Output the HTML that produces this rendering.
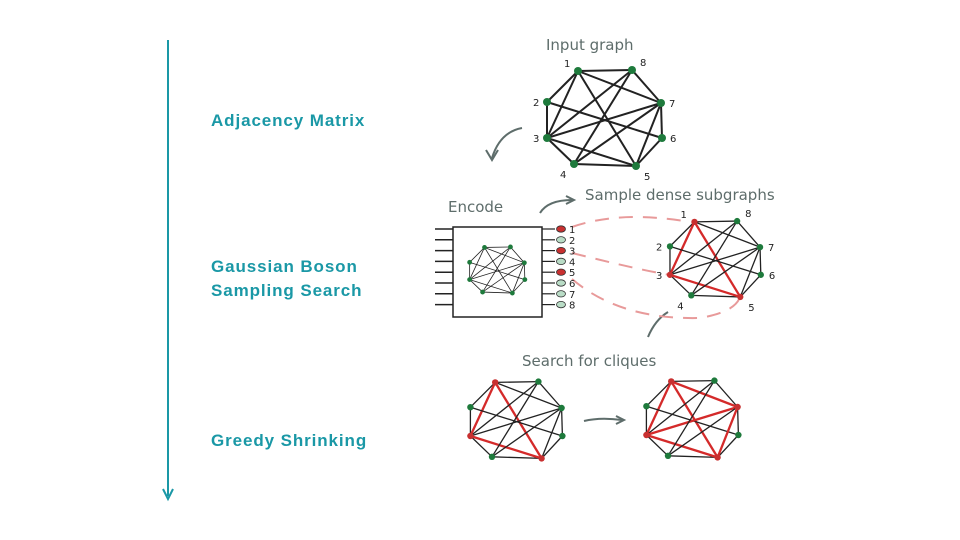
<!DOCTYPE html>
<html><head><meta charset="utf-8"><style>
body{margin:0;width:960px;height:540px;background:#fff;overflow:hidden;font-family:"Liberation Sans",sans-serif}
.lbl{position:absolute;left:211px;color:#1a98a6;font-weight:bold;font-size:17px;line-height:24px;letter-spacing:0.9px}
svg{position:absolute;left:0;top:0}
.hw{font-family:"DejaVu Sans",sans-serif;fill:#5e6d6b;font-size:15px}
.num{font-family:"DejaVu Sans",sans-serif;fill:#222;font-size:10px}
</style></head><body>
<div class="lbl" style="top:109px">Adjacency Matrix</div>
<div class="lbl" style="top:255px">Gaussian Boson<br>Sampling Search</div>
<div class="lbl" style="top:429px">Greedy Shrinking</div>
<svg id="s" width="960" height="540">
<line x1="168" y1="40" x2="168" y2="496" stroke="#1a98a6" stroke-width="2"/>
<path d="M163 489 L168 499 L173 489" fill="none" stroke="#1a98a6" stroke-width="2"/>
<text class="hw" x="546" y="50">Input graph</text>
<text class="hw" x="448" y="212">Encode</text>
<text class="hw" x="585" y="200">Sample dense subgraphs</text>
<text class="hw" x="522" y="366">Search for cliques</text>
<path d="M522 128 Q500 132 492 158" fill="none" stroke="#5e6d6b" stroke-width="2"/>
<path d="M486 150 L492 160 L498 150" fill="none" stroke="#5e6d6b" stroke-width="2"/>
<path d="M540 213 Q548 200 572 200" fill="none" stroke="#5e6d6b" stroke-width="2"/>
<path d="M566 196 L574 200 L566 204" fill="none" stroke="#5e6d6b" stroke-width="2"/>
<path d="M648 337 Q655 320 668 312" fill="none" stroke="#5e6d6b" stroke-width="2"/>
<path d="M584 421 Q600 417 622 420" fill="none" stroke="#5e6d6b" stroke-width="2"/>
<path d="M616 416 L624 420 L616 424" fill="none" stroke="#5e6d6b" stroke-width="2"/>
<g fill="none" stroke="#e89a9a" stroke-width="2" stroke-dasharray="14 10">
<path d="M572 227 Q620 210 690 222"/>
<path d="M572 253 Q640 270 670 275"/>
<path d="M572 279 Q620 320 700 318 Q735 312 740 297"/>
</g>
<rect x="453" y="227" width="89" height="90" fill="none" stroke="#222" stroke-width="1.5"/>
</svg>
<script>
const s=document.getElementById('s');
const NS='http://www.w3.org/2000/svg';
const nodePos={1:[-26,-47],8:[28,-48],2:[-57,-16],7:[57,-15],3:[-57,20],6:[58,20],4:[-30,46],5:[32,48]};
const edges=[[1,8],[8,7],[7,6],[6,5],[5,4],[4,3],[3,2],[2,1],[1,7],[1,5],[1,3],[2,6],[3,8],[3,7],[3,5],[4,8],[5,7],[4,7]];
function mk(t,a){const e=document.createElementNS(NS,t);for(const k in a)e.setAttribute(k,a[k]);s.appendChild(e);return e;}
function graph(name,cx,cy,sc,red,rn,labels,w){
  const P=k=>[cx+nodePos[k][0]*sc,cy+nodePos[k][1]*sc];
  edges.forEach(([a,b])=>{const isR=red.some(r=>(r[0]==a&&r[1]==b)||(r[0]==b&&r[1]==a));
    const [x1,y1]=P(a),[x2,y2]=P(b);
    const l=mk('line',{x1,y1,x2,y2,stroke:isR?'#d42a2a':'#222','stroke-width':isR?w+1:w});
    
    });
  for(const k in nodePos){const [x,y]=P(k);
    const c=mk('circle',{cx:x,cy:y,r:4*Math.max(sc,0.6),fill:rn.includes(+k)?'#c83030':'#1e7a3c'});
    
    
    if(labels){const [dx,dy]=[nodePos[k][0]>0?8:-14,nodePos[k][1]>30?14:(nodePos[k][1]<-40?-4:4)];
      const t=mk('text',{x:x+dx,y:y+dy,class:'num','font-size':labels});t.textContent=k;}}
}
graph('input-graph',604,118,1,[],[],12,2);
graph('sample-graph',715,259,0.79,[[1,3],[1,5],[3,5]],[1,3,5],10,1.3);
graph('search-graph-a',516,420,0.8,[[1,3],[1,5],[3,5]],[1,3,5],0,1.3);
graph('search-graph-b',692,419,0.8,[[1,3],[1,5],[3,5],[1,7],[3,7],[7,5]],[1,3,5,7],0,1.3);
graph('encoder-mini-graph',497,270,0.48,[],[],0,0.8);
const outState=[1,0,1,0,1,0,0,0];
for(let i=0;i<8;i++){const y=229+i*10.8;
  mk('line',{x1:435,y1:y,x2:453,y2:y,stroke:'#222','stroke-width':1.5});
  mk('line',{x1:542,y1:y,x2:555,y2:y,stroke:'#222','stroke-width':1.2});
  const e=mk('ellipse',{cx:561,cy:y,rx:4.5,ry:3.2,fill:outState[i]?'#c83030':'#b9dcc6',stroke:'#333','stroke-width':0.8});
  
  
  const t=mk('text',{x:569,y:y+4,class:'num'});t.textContent=i+1;}
</script>
</body></html>
